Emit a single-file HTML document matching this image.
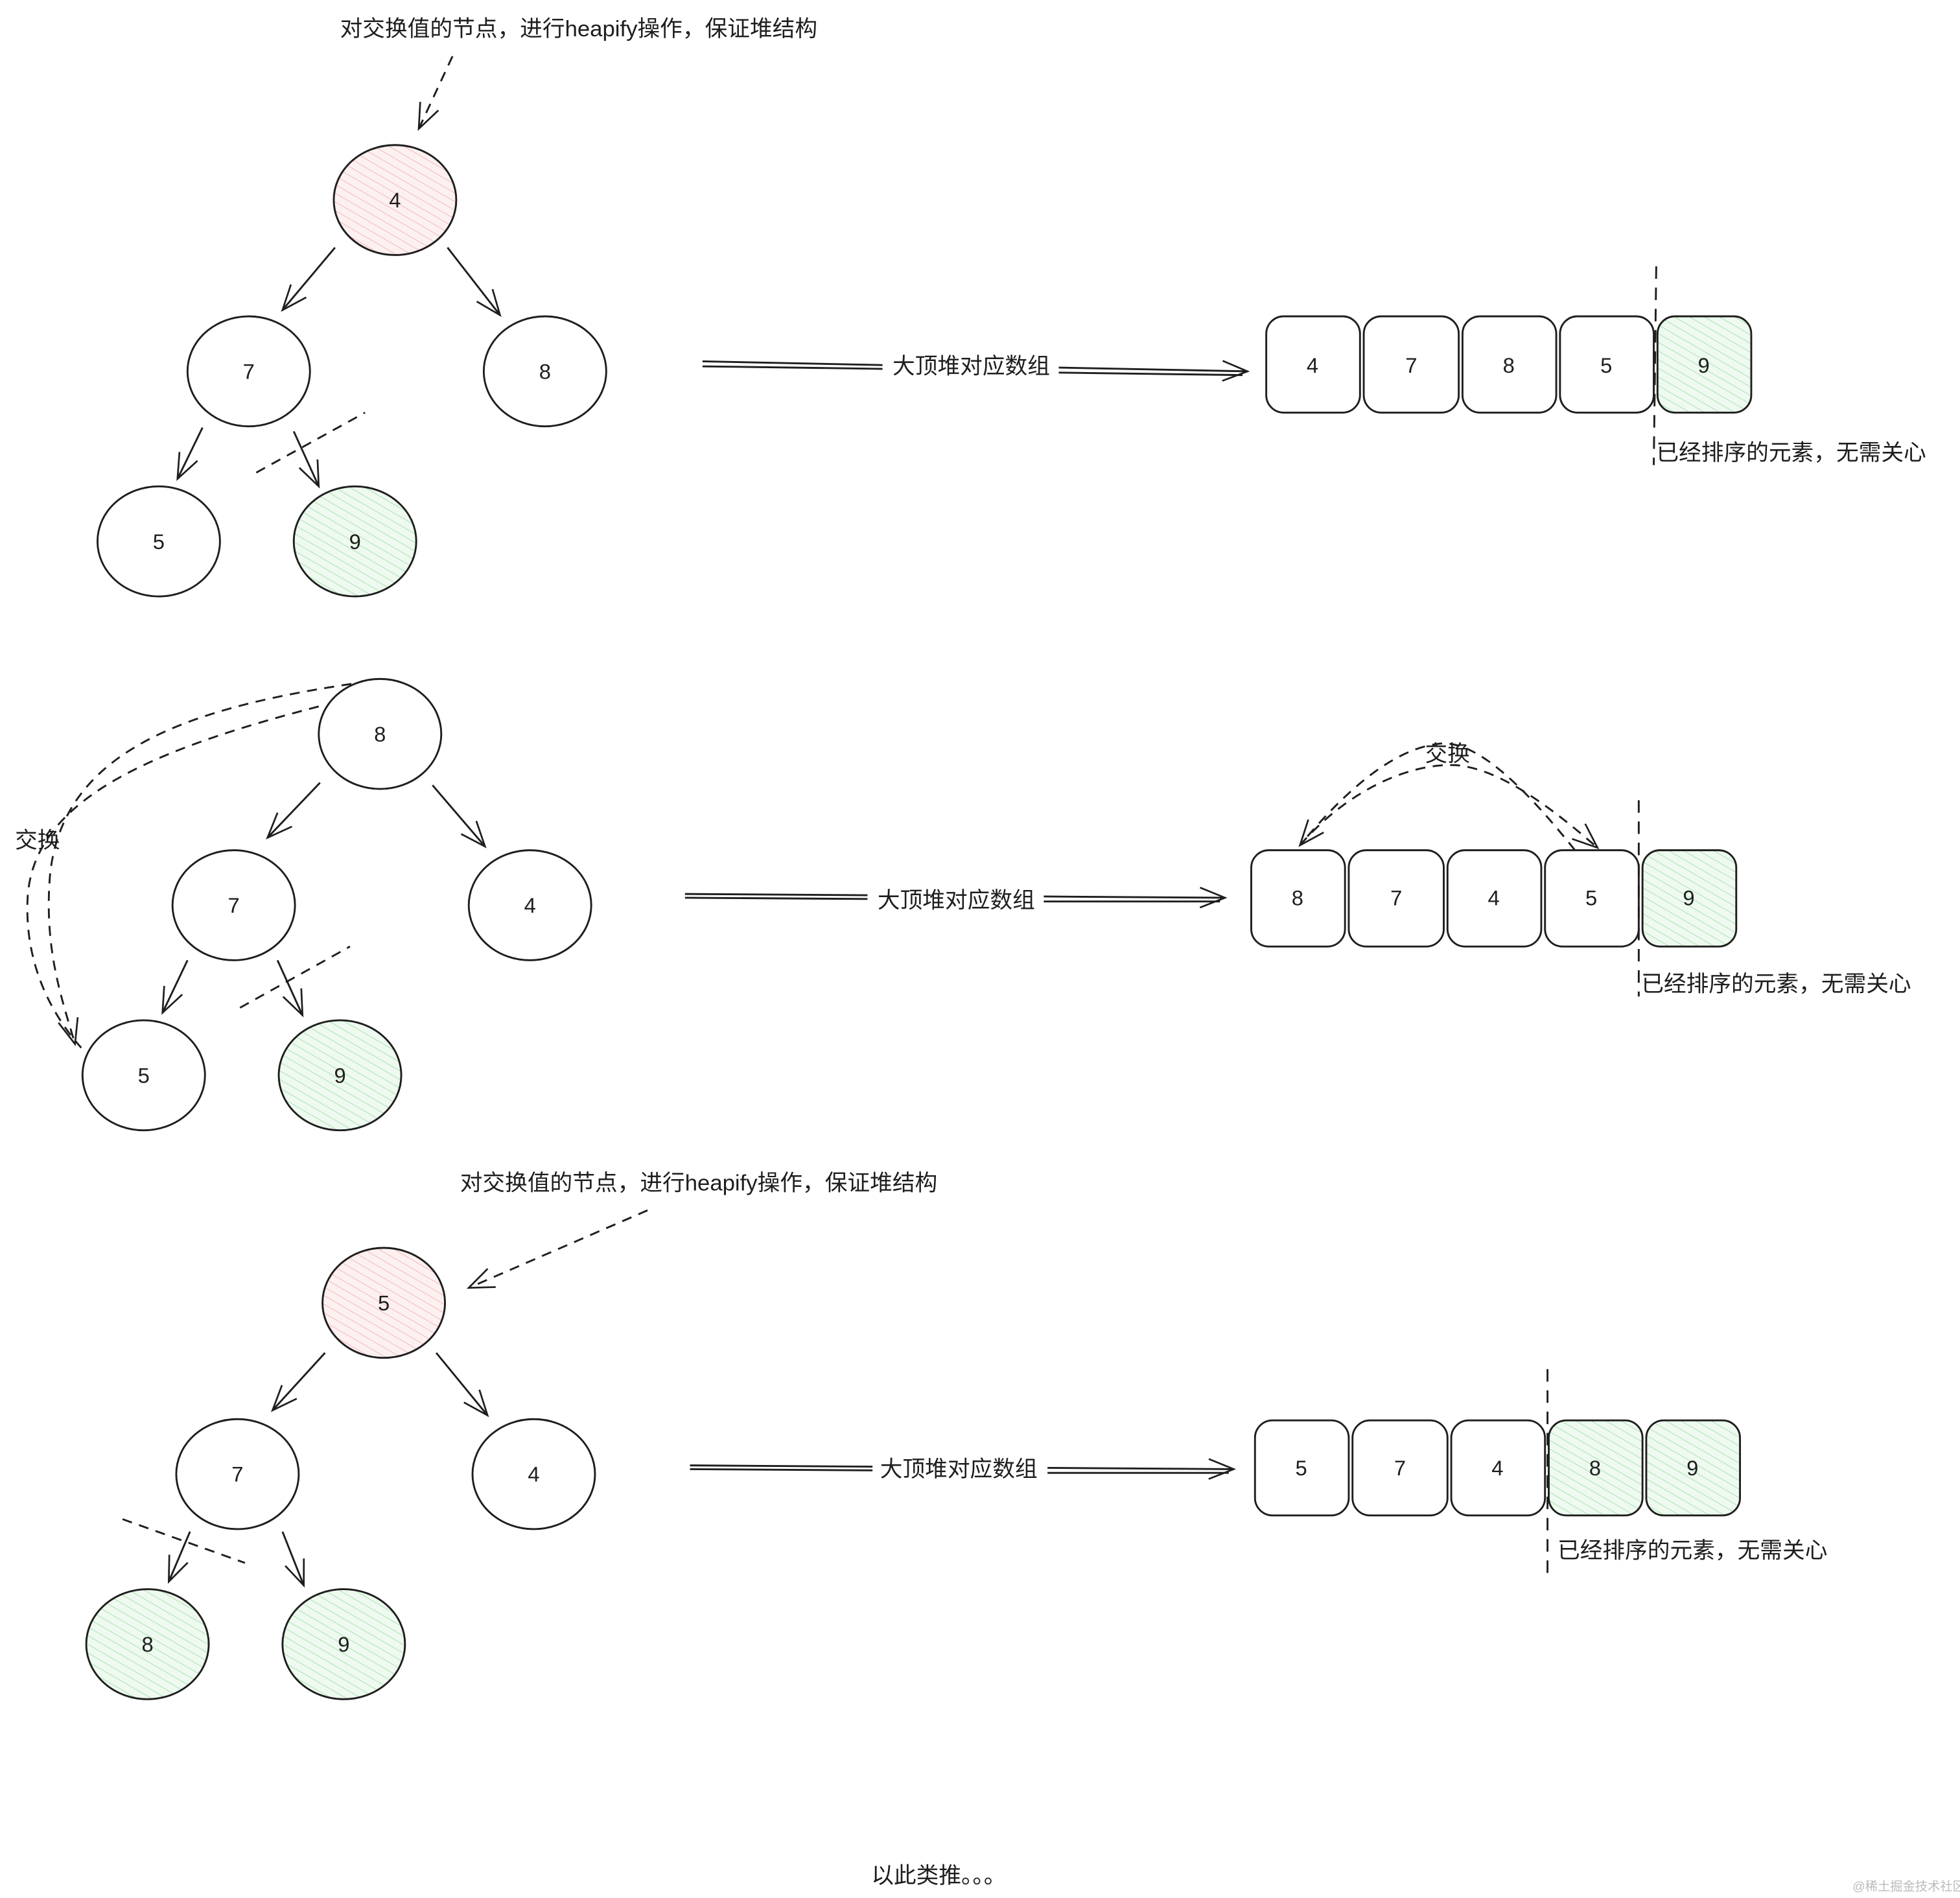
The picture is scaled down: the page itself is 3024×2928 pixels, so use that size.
<!DOCTYPE html>
<html><head><meta charset="utf-8"><style>
html,body{margin:0;padding:0;background:#fff;width:3024px;height:2928px;overflow:hidden}
svg{display:block}
text{font-family:"Liberation Sans","Noto Sans CJK SC",sans-serif;fill:#1e1e1e}
</style></head><body>
<svg width="3024" height="2928" viewBox="0 0 1568 1518" preserveAspectRatio="none" xmlns="http://www.w3.org/2000/svg">
<defs>
<pattern id="hp" width="6" height="6" patternUnits="userSpaceOnUse" patternTransform="rotate(-60)"><rect width="6" height="6" fill="#fdf0f0"/><line x1="0" y1="0" x2="0" y2="6" stroke="#f3b8b8" stroke-width="1"/></pattern>
<pattern id="hg" width="6" height="6" patternUnits="userSpaceOnUse" patternTransform="rotate(-60)"><rect width="6" height="6" fill="#eef9ef"/><line x1="0" y1="0" x2="0" y2="6" stroke="#a9e2b0" stroke-width="1"/></pattern>
<marker id="ar" markerWidth="30" markerHeight="30" refX="22" refY="10" orient="auto" markerUnits="userSpaceOnUse"><path d="M2,2 L22,10 L2,18" fill="none" stroke="#1e1e1e" stroke-width="1.4"/></marker>
</defs>
<g stroke="#1e1e1e" stroke-width="1.5" fill="none">
<!-- tree 1 -->
<path d="M362,45 L335,103" stroke-dasharray="8,6" marker-end="url(#ar)"/>
<ellipse cx="316" cy="160" rx="49" ry="44" fill="url(#hp)"/>
<path d="M268,198 L226,248" marker-end="url(#ar)"/>
<path d="M358,198 L400,252" marker-end="url(#ar)"/>
<ellipse cx="199" cy="297" rx="49" ry="44" fill="#fff"/>
<ellipse cx="436" cy="297" rx="49" ry="44" fill="#fff"/>
<path d="M162,342 L142,383" marker-end="url(#ar)"/>
<path d="M235,345 L255,389" marker-end="url(#ar)"/>
<path d="M205,378 L292,330" stroke-dasharray="8,6"/>
<ellipse cx="127" cy="433" rx="49" ry="44" fill="#fff"/>
<ellipse cx="284" cy="433" rx="49" ry="44" fill="url(#hg)"/>
<path d="M562,289 L706,292 M847,294 L998,297" marker-end="url(#ar)"/>
<path d="M562,293 L706,295 M847,298 L994,300"/>
<rect x="1013" y="253" width="75" height="77" rx="14" fill="#fff"/>
<rect x="1091" y="253" width="76" height="77" rx="14" fill="#fff"/>
<rect x="1170" y="253" width="75" height="77" rx="14" fill="#fff"/>
<rect x="1248" y="253" width="75" height="77" rx="14" fill="#fff"/>
<rect x="1326" y="253" width="75" height="77" rx="14" fill="url(#hg)"/>
<path d="M1325,213 L1323,372" stroke-dasharray="10,7"/>
<!-- tree 2 -->
<path d="M295,545 C150,565 50,600 40,700 C35,760 50,800 60,835" stroke-dasharray="8,6" marker-end="url(#ar)"/>
<path d="M255,565 C120,600 25,640 22,720 C20,770 40,810 65,838" stroke-dasharray="8,6"/>
<ellipse cx="304" cy="587" rx="49" ry="44" fill="#fff"/>
<path d="M256,626 L214,670" marker-end="url(#ar)"/>
<path d="M346,628 L388,677" marker-end="url(#ar)"/>
<ellipse cx="187" cy="724" rx="49" ry="44" fill="#fff"/>
<ellipse cx="424" cy="724" rx="49" ry="44" fill="#fff"/>
<path d="M150,768 L130,810" marker-end="url(#ar)"/>
<path d="M222,768 L242,812" marker-end="url(#ar)"/>
<path d="M192,806 L280,757" stroke-dasharray="8,6"/>
<ellipse cx="115" cy="860" rx="49" ry="44" fill="#fff"/>
<ellipse cx="272" cy="860" rx="49" ry="44" fill="url(#hg)"/>
<path d="M548,715 L694,716 M835,717 L980,718" marker-end="url(#ar)"/>
<path d="M548,718 L694,719 M835,721 L976,721"/>
<path d="M1040,676 C1080,630 1130,610 1165,612 C1200,615 1240,645 1278,678" stroke-dasharray="8,6" marker-end="url(#ar)"/>
<path d="M1260,680 C1220,630 1180,590 1150,595 C1110,600 1070,640 1040,676" stroke-dasharray="8,6" marker-end="url(#ar)"/>
<rect x="1001" y="680" width="75" height="77" rx="14" fill="#fff"/>
<rect x="1079" y="680" width="76" height="77" rx="14" fill="#fff"/>
<rect x="1158" y="680" width="75" height="77" rx="14" fill="#fff"/>
<rect x="1236" y="680" width="75" height="77" rx="14" fill="#fff"/>
<rect x="1314" y="680" width="75" height="77" rx="14" fill="url(#hg)"/>
<path d="M1311,640 L1311,797" stroke-dasharray="10,7"/>
<!-- tree 3 -->
<path d="M518,968 L375,1030" stroke-dasharray="8,6" marker-end="url(#ar)"/>
<ellipse cx="307" cy="1042" rx="49" ry="44" fill="url(#hp)"/>
<path d="M260,1082 L218,1128" marker-end="url(#ar)"/>
<path d="M349,1082 L390,1132" marker-end="url(#ar)"/>
<ellipse cx="190" cy="1179" rx="49" ry="44" fill="#fff"/>
<ellipse cx="427" cy="1179" rx="49" ry="44" fill="#fff"/>
<path d="M152,1225 L135,1265" marker-end="url(#ar)"/>
<path d="M226,1225 L243,1268" marker-end="url(#ar)"/>
<path d="M98,1215 L196,1250" stroke-dasharray="8,6"/>
<ellipse cx="118" cy="1315" rx="49" ry="44" fill="url(#hg)"/>
<ellipse cx="275" cy="1315" rx="49" ry="44" fill="url(#hg)"/>
<path d="M552,1172 L698,1173 M838,1174 L987,1175" marker-end="url(#ar)"/>
<path d="M552,1175 L698,1176 M838,1178 L983,1178"/>
<rect x="1004" y="1136" width="75" height="76" rx="14" fill="#fff"/>
<rect x="1082" y="1136" width="76" height="76" rx="14" fill="#fff"/>
<rect x="1161" y="1136" width="75" height="76" rx="14" fill="#fff"/>
<rect x="1239" y="1136" width="75" height="76" rx="14" fill="url(#hg)"/>
<rect x="1317" y="1136" width="75" height="76" rx="14" fill="url(#hg)"/>
<path d="M1238,1095 L1238,1258" stroke-dasharray="10,7"/>
</g>
<g font-size="18">
<text x="272" y="29">对交换值的节点，进行heapify操作，保证堆结构</text>
<text x="368" y="952">对交换值的节点，进行heapify操作，保证堆结构</text>
<text x="777" y="299" text-anchor="middle">大顶堆对应数组</text>
<text x="765" y="726" text-anchor="middle">大顶堆对应数组</text>
<text x="767" y="1181" text-anchor="middle">大顶堆对应数组</text>
<text x="1325" y="368">已经排序的元素，无需关心</text>
<text x="1313" y="793">已经排序的元素，无需关心</text>
<text x="1246" y="1246">已经排序的元素，无需关心</text>
<text x="12" y="678">交换</text>
<text x="1140" y="609">交换</text>
<text x="697" y="1506">以此类推。。。</text>
</g>
<g font-size="17" text-anchor="middle">
<text x="316" y="166">4</text><text x="199" y="303">7</text><text x="436" y="303">8</text><text x="127" y="439">5</text><text x="284" y="439">9</text>
<text x="1050" y="298">4</text><text x="1129" y="298">7</text><text x="1207" y="298">8</text><text x="1285" y="298">5</text><text x="1363" y="298">9</text>
<text x="304" y="593">8</text><text x="187" y="730">7</text><text x="424" y="730">4</text><text x="115" y="866">5</text><text x="272" y="866">9</text>
<text x="1038" y="724">8</text><text x="1117" y="724">7</text><text x="1195" y="724">4</text><text x="1273" y="724">5</text><text x="1351" y="724">9</text>
<text x="307" y="1048">5</text><text x="190" y="1185">7</text><text x="427" y="1185">4</text><text x="118" y="1321">8</text><text x="275" y="1321">9</text>
<text x="1041" y="1180">5</text><text x="1120" y="1180">7</text><text x="1198" y="1180">4</text><text x="1276" y="1180">8</text><text x="1354" y="1180">9</text>
</g>
<text x="1482" y="1512" font-size="10" style="fill:#bbb">@稀土掘金技术社区</text>
</svg>
</body></html>
